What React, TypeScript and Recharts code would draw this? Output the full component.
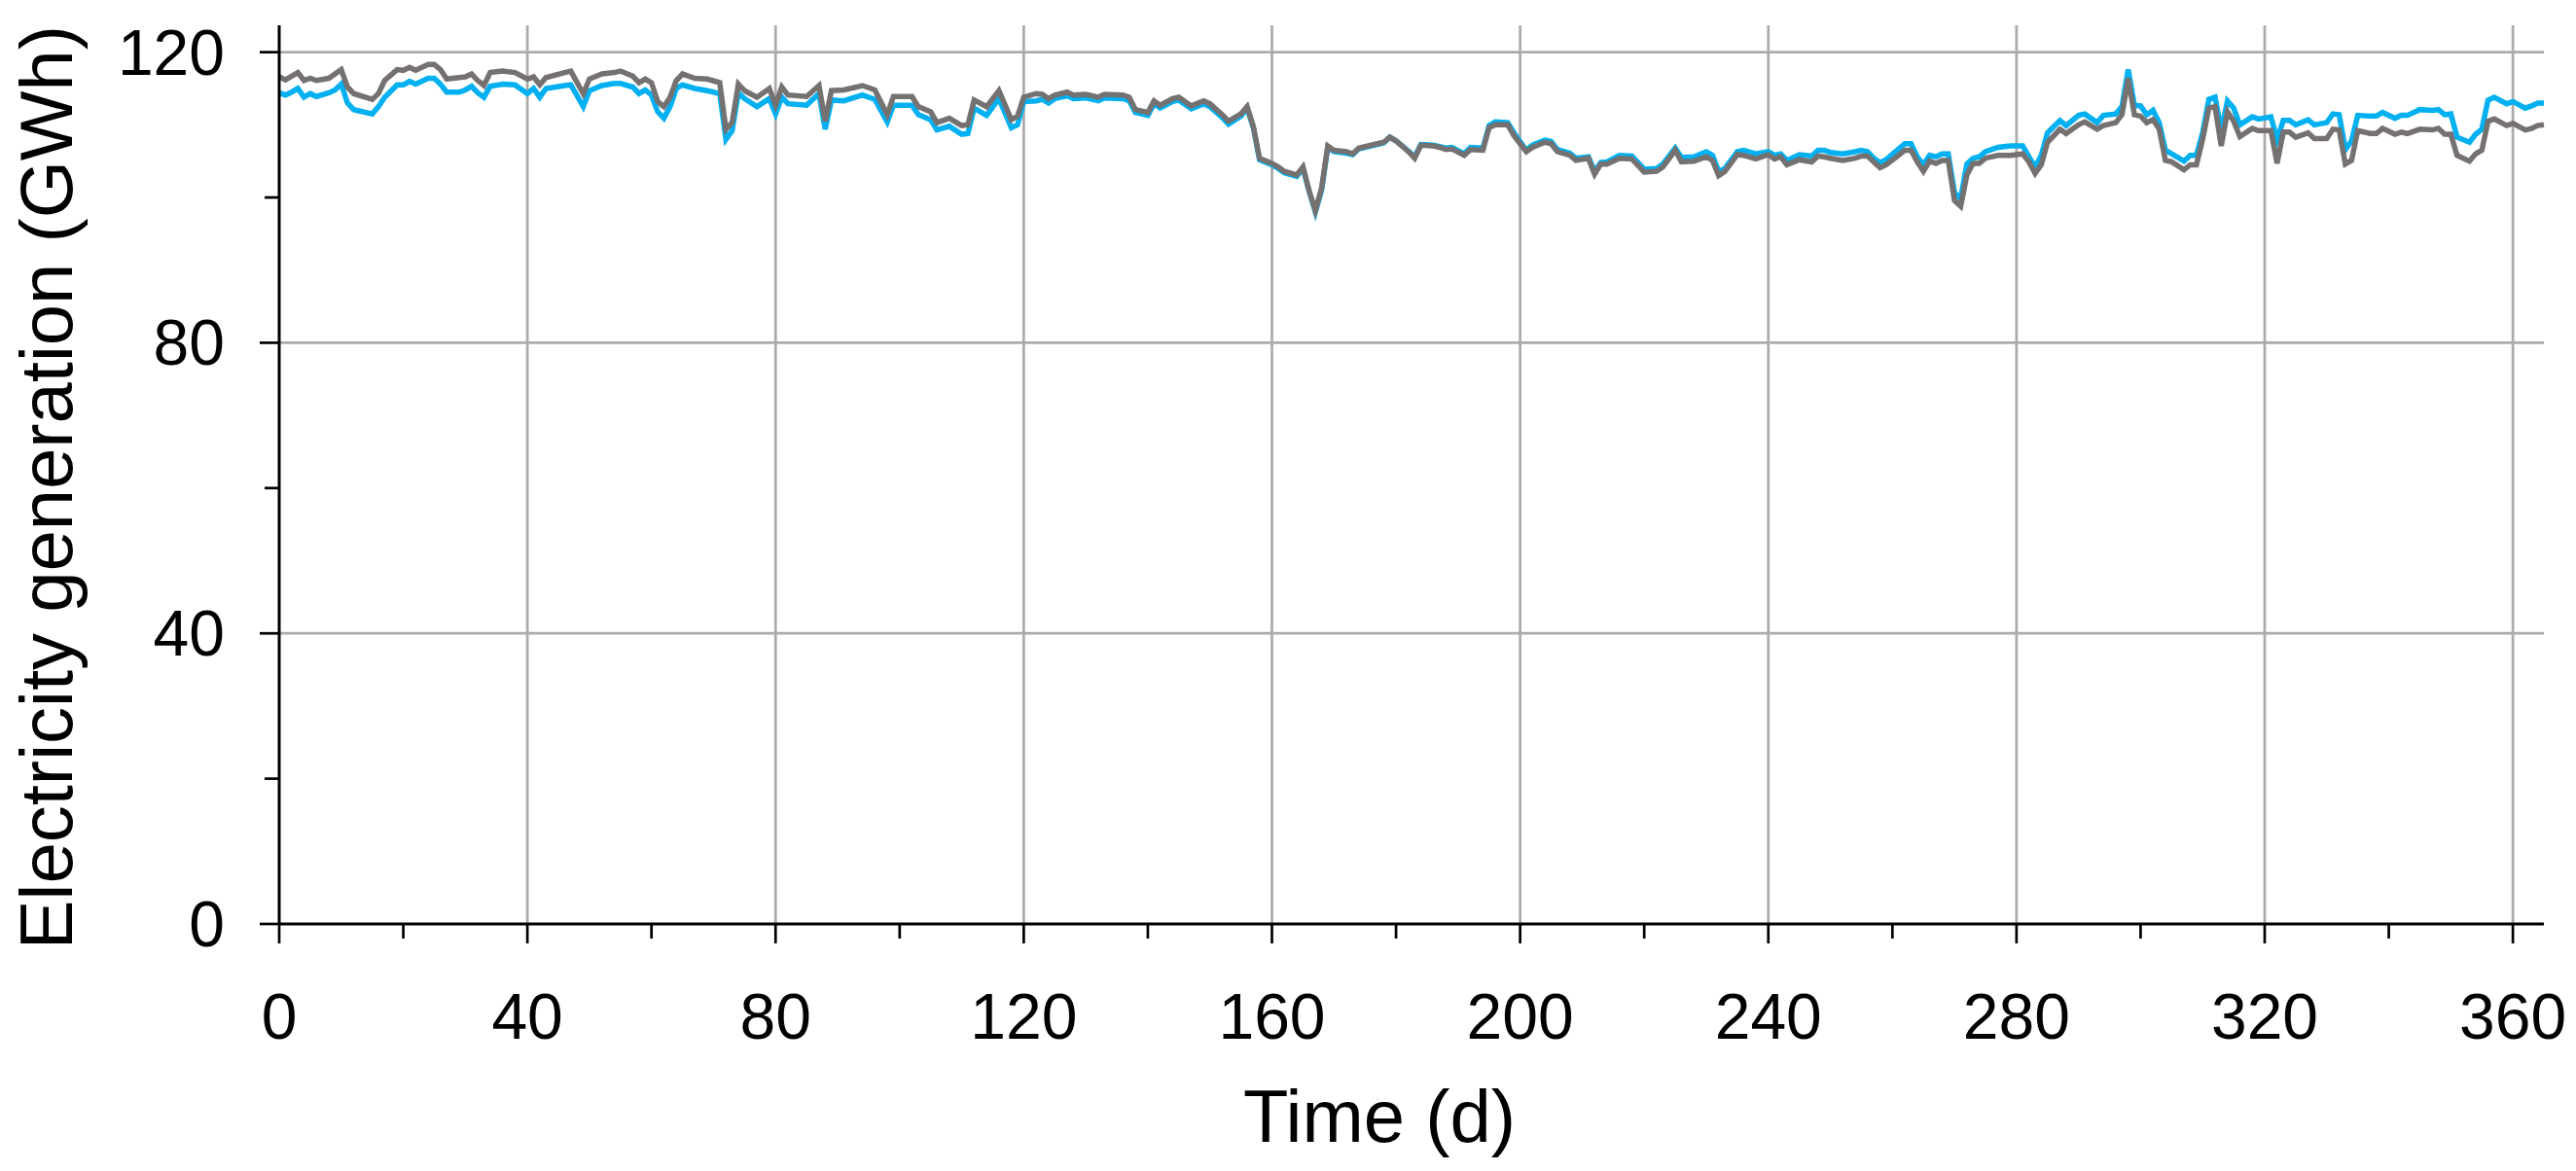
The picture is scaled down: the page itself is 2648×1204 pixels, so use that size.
import { LineChart, Line, XAxis, YAxis, ReferenceLine } from "recharts";

// day of year for each read-off point
const days = [
  0, 1, 2, 3, 4, 5, 6, 8, 9, 10,
  11, 12, 15, 16, 17, 19, 20, 21, 22, 24,
  25, 26, 27, 29, 30, 31, 32, 33, 34, 36,
  38, 40, 41, 42, 43, 46, 47, 49, 50, 52,
  54, 55, 57, 58, 59, 60, 61, 62, 63, 64,
  65, 67, 69, 71, 72, 73, 74, 75, 77, 79,
  80, 81, 82, 85, 87, 88, 89, 91, 94, 96,
  98, 99, 102, 103, 105, 106, 108, 110, 111, 112,
  114, 116, 118, 119, 120, 122, 123, 124, 125, 127,
  128, 130, 132, 133, 136, 137, 138, 140, 141, 142,
  144, 145, 147, 149, 150, 152, 153, 155, 156, 157,
  158, 160, 161, 162, 164, 165, 166, 167, 168, 169,
  170, 172, 173, 174, 176, 178, 179, 180, 182, 183,
  184, 186, 187, 188, 189, 191, 192, 194, 195, 196,
  198, 199, 201, 202, 204, 205, 206, 208, 209, 211,
  212, 213, 214, 216, 218, 220, 222, 223, 225, 226,
  228, 230, 231, 232, 233, 235, 236, 238, 240, 241,
  242, 243, 245, 247, 248, 249, 250, 252, 254, 255,
  256, 257, 258, 259, 261, 262, 263, 264, 265, 266,
  267, 268, 269, 270, 271, 272, 273, 274, 275, 277,
  279, 281, 282, 283, 284, 285, 287, 288, 290, 291,
  293, 294, 296, 297, 298, 299, 300, 301, 302, 303,
  304, 305, 307, 308, 309, 310, 311, 312, 313, 314,
  315, 316, 318, 319, 321, 322, 323, 324, 325, 327,
  328, 330, 331, 332, 333, 334, 335, 337, 338, 339,
  341, 342, 343, 345, 347, 348, 349, 350, 351, 353,
  354, 355, 356, 357, 359, 360, 362, 363, 364, 365,
];

// grey series (GWh)
const grayGen = [
  116.6, 116.2, 116.7, 117.2, 116.1, 116.4, 116.1, 116.4, 117.0, 117.6,
  115.2, 114.3, 113.5, 114.3, 116.1, 117.6, 117.5, 117.9, 117.5, 118.3,
  118.3, 117.6, 116.3, 116.5, 116.6, 117.0, 116.1, 115.4, 117.2, 117.4,
  117.2, 116.3, 116.6, 115.5, 116.5, 117.2, 117.4, 114.3, 116.3, 117.0,
  117.2, 117.4, 116.7, 115.8, 116.3, 115.8, 113.2, 112.5, 113.8, 116.1,
  117.0, 116.4, 116.3, 115.8, 109.4, 110.3, 115.6, 114.7, 113.8, 115.0,
  112.7, 115.2, 114.1, 113.9, 115.4, 110.5, 114.7, 114.8, 115.4, 114.8,
  111.4, 113.9, 113.9, 112.5, 111.8, 110.3, 110.9, 109.9, 110.0, 113.4,
  112.5, 114.7, 110.7, 111.2, 113.8, 114.3, 114.2, 113.6, 114.1, 114.5,
  114.1, 114.2, 113.8, 114.2, 114.1, 113.8, 112.1, 111.7, 113.3, 112.7,
  113.6, 113.8, 112.6, 113.3, 112.9, 111.4, 110.5, 111.5, 112.5, 109.8,
  105.4, 104.7, 104.2, 103.6, 103.1, 104.2, 100.9, 98.2, 101.3, 107.1,
  106.5, 106.3, 106.0, 106.8, 107.2, 107.6, 108.3, 107.8, 106.3, 105.4,
  107.2, 107.1, 106.9, 106.6, 106.7, 105.8, 106.6, 106.5, 109.6, 110.0,
  110.0, 108.5, 106.3, 106.9, 107.6, 107.4, 106.3, 105.8, 105.1, 105.4,
  103.2, 104.6, 104.6, 105.4, 105.3, 103.5, 103.6, 104.2, 106.5, 104.9,
  105.0, 105.6, 105.1, 103.0, 103.6, 105.9, 105.8, 105.3, 105.9, 105.3,
  105.6, 104.5, 105.2, 104.9, 105.7, 105.6, 105.4, 105.1, 105.4, 105.7,
  105.7, 104.9, 104.1, 104.5, 105.8, 106.5, 106.5, 104.9, 103.6, 105.0,
  104.7, 105.1, 105.1, 99.6, 98.8, 103.1, 104.7, 104.7, 105.4, 105.8,
  105.8, 106.0, 104.9, 103.3, 104.5, 107.6, 109.4, 108.8, 110.0, 110.4,
  109.4, 109.9, 110.3, 111.4, 116.4, 111.4, 111.2, 110.3, 110.7, 109.4,
  105.1, 104.9, 103.8, 104.5, 104.5, 108.0, 112.3, 112.5, 107.1, 111.8,
  110.5, 108.4, 109.5, 109.2, 109.2, 104.7, 109.0, 109.0, 108.3, 108.9,
  108.1, 108.1, 109.4, 109.3, 104.6, 105.1, 109.2, 108.8, 108.8, 109.5,
  108.7, 109.0, 108.8, 109.4, 109.3, 109.5, 108.7, 108.7, 105.8, 105.0,
  106.0, 106.5, 110.5, 110.8, 109.9, 110.2, 109.3, 109.5, 109.9, 110.0,
];

// blue series (GWh)
const blueGen = [
  114.4, 114.1, 114.5, 115.0, 113.8, 114.3, 113.9, 114.4, 114.8, 115.6,
  113.0, 112.1, 111.5, 112.5, 113.8, 115.5, 115.5, 116.0, 115.6, 116.4,
  116.4, 115.6, 114.5, 114.5, 114.8, 115.3, 114.4, 113.8, 115.3, 115.6,
  115.5, 114.3, 115.0, 113.8, 115.0, 115.4, 115.5, 112.5, 114.7, 115.4,
  115.7, 115.7, 115.2, 114.3, 114.8, 114.1, 111.8, 110.9, 112.5, 115.0,
  115.5, 115.0, 114.7, 114.3, 108.0, 109.2, 114.4, 113.6, 112.5, 113.6,
  111.5, 113.8, 112.9, 112.7, 114.3, 109.4, 113.4, 113.3, 114.1, 113.5,
  110.4, 112.7, 112.7, 111.4, 110.7, 109.3, 109.8, 108.7, 108.8, 112.3,
  111.3, 113.6, 109.6, 110.0, 113.2, 113.3, 113.5, 113.0, 113.6, 114.0,
  113.6, 113.7, 113.3, 113.7, 113.6, 113.3, 111.7, 111.3, 112.9, 112.3,
  113.2, 113.4, 112.2, 112.9, 112.5, 111.0, 110.1, 111.2, 112.3, 109.6,
  105.2, 104.5, 104.0, 103.4, 102.9, 104.0, 100.8, 98.0, 101.0, 106.9,
  106.3, 106.1, 105.9, 106.7, 107.1, 107.5, 108.3, 107.8, 106.4, 105.6,
  107.3, 107.2, 107.0, 106.8, 106.9, 106.0, 106.9, 106.8, 109.9, 110.4,
  110.3, 108.9, 106.5, 107.2, 107.9, 107.7, 106.6, 106.1, 105.4, 105.6,
  103.6, 104.8, 104.9, 105.8, 105.7, 103.9, 104.0, 104.6, 106.8, 105.5,
  105.6, 106.3, 105.8, 103.6, 104.0, 106.3, 106.5, 106.0, 106.3, 105.8,
  106.0, 105.1, 105.9, 105.7, 106.5, 106.5, 106.2, 106.0, 106.3, 106.5,
  106.3, 105.4, 104.8, 105.2, 106.7, 107.4, 107.4, 105.6, 104.5, 105.8,
  105.6, 106.0, 106.0, 100.7, 99.8, 104.6, 105.4, 105.6, 106.3, 106.9,
  107.1, 107.1, 105.6, 104.2, 105.8, 108.9, 110.6, 109.9, 111.3, 111.5,
  110.3, 111.3, 111.5, 112.5, 117.6, 112.7, 112.6, 111.4, 112.0, 110.3,
  106.5, 106.0, 105.0, 105.8, 105.8, 108.9, 113.5, 113.8, 109.2, 113.3,
  112.3, 110.0, 111.1, 110.8, 111.1, 108.0, 110.6, 110.6, 110.0, 110.7,
  110.0, 110.3, 111.5, 111.4, 106.6, 107.8, 111.3, 111.2, 111.2, 111.7,
  110.9, 111.3, 111.3, 112.1, 112.0, 112.1, 111.4, 111.5, 108.3, 107.6,
  108.7, 109.4, 113.4, 113.8, 112.9, 113.2, 112.3, 112.6, 113.0, 113.0,
];

const xTicks = [0, 20, 40, 60, 80, 100, 120, 140, 160, 180, 200, 220, 240, 260, 280, 300, 320, 340, 360];
const yTicks = [0, 20, 40, 60, 80, 100, 120];
const xGrid = [40, 80, 120, 160, 200, 240, 280, 320, 360];
const yGrid = [40, 80, 120];

const data = days.map((d, i) => ({ day: d, gray: grayGen[i], blue: blueGen[i] }));

const FONT = "'Liberation Sans', Arial, sans-serif";
const GRID = "#AEAAAA";

const XTick = ({ x, y, payload }: any) => {
  const major = payload.value % 40 === 0;
  return (
    <g>
      <line x1={x} x2={x} y1={y} y2={y + (major ? 20 : 15)} stroke="#000" strokeWidth={2.7} />
      {major && (
        <text x={x} y={y + 118} textAnchor="middle" fontSize={66} fontFamily={FONT} fill="#000">
          {payload.value}
        </text>
      )}
    </g>
  );
};

const YTick = ({ x, y, payload }: any) => {
  const major = payload.value % 40 === 0;
  return (
    <g>
      <line x1={x - (major ? 20 : 15)} x2={x} y1={y} y2={y} stroke="#000" strokeWidth={2.7} />
      {major && (
        <text x={x - 56} y={y + 23} textAnchor="end" fontSize={66} fontFamily={FONT} fill="#000">
          {payload.value}
        </text>
      )}
    </g>
  );
};

export default function App() {
  return (
    <div style={{ background: "#fff" }}>
      <LineChart width={2632} height={1188} data={data} margin={{ top: 18, right: 25, left: 0, bottom: 0 }}>
        {xGrid.map((v) => (
          <ReferenceLine key={"x" + v} x={v} stroke={GRID} strokeWidth={2.75} />
        ))}
        {yGrid.map((v) => (
          <ReferenceLine key={"y" + v} y={v} stroke={GRID} strokeWidth={2.75} />
        ))}
        <XAxis
          dataKey="day"
          type="number"
          domain={[0, 365]}
          ticks={xTicks}
          interval={0}
          height={246}
          tickSize={0}
          tickMargin={0}
          tickLine={false}
          axisLine={{ stroke: "#000", strokeWidth: 3 }}
          tick={(p: any) => <XTick {...p} />}
        />
        <YAxis
          type="number"
          domain={[0, 123.7]}
          ticks={yTicks}
          interval={0}
          width={279}
          tickSize={0}
          tickMargin={0}
          tickLine={false}
          axisLine={{ stroke: "#000", strokeWidth: 3 }}
          tick={(p: any) => <YTick {...p} />}
        />
        <Line type="linear" dataKey="blue" stroke="#00B0F0" strokeWidth={5.5} dot={false} isAnimationActive={false} />
        <Line type="linear" dataKey="gray" stroke="#767171" strokeWidth={5.5} dot={false} isAnimationActive={false} />
        <text x={1410} y={1166} textAnchor="middle" fontSize={76} fontFamily={FONT} fill="#000">
          Time (d)
        </text>
        <text
          x={66}
          y={493}
          transform="rotate(-90 66 493)"
          textAnchor="middle"
          fontSize={76}
          fontFamily={FONT}
          fill="#000"
        >
          Electricity generation (GWh)
        </text>
      </LineChart>
    </div>
  );
}
